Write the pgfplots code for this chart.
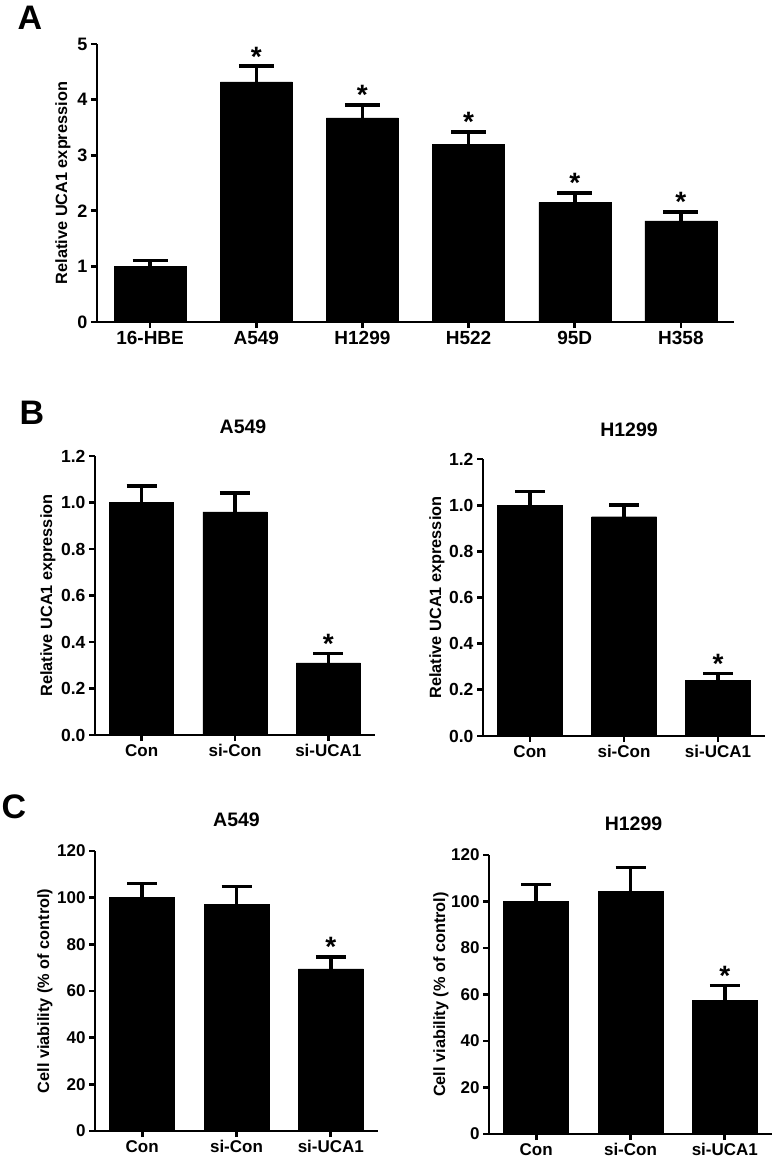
\documentclass[border=0pt]{standalone}
\usepackage{fontspec}
\setmainfont{Liberation Sans}
\usepackage{pgfplots}
\pgfplotsset{compat=1.18}

\newcommand{\fs}[1]{\bfseries\fontsize{#1}{#1}\selectfont}

\pgfplotsset{
  gpbar/.style={
    scale only axis,
    axis x line=bottom, axis y line=left,
    axis line style={-, line width=2.8pt, black},
    tick align=outside,
    major tick length=6pt,
    tick style={line width=2.8pt, black},
    ymin=0,
    clip=false,
    /pgf/number format/assume math mode=true,
    ylabel style={anchor=center, font=\fs{16.3}},
    title style={anchor=south, inner sep=0pt, font=\fs{19.5}},
  },
  bars/.style n args={2}{ybar, fill=black, draw=black, bar width=#1,
    /pgfplots/error bars/.cd, y dir=plus, y explicit,
    error bar style={line width=3.5pt, black},
    error mark=|,
    error mark options={line width=3.5pt, black, mark size=#2}},
  stars/.style={draw=none, mark=none, nodes near coords={*},
    nodes near coords style={anchor=south, inner sep=0pt, font=\fs{28}}},
}

\begin{document}
\begin{tikzpicture}
\useasboundingbox (0,0) rectangle (774pt,-1159pt);

% panel letters
\node[font=\fs{34}] at (30pt,-18pt) {A};
\node[font=\fs{34}] at (32pt,-413pt) {B};
\node[font=\fs{34}] at (14pt,-807pt) {C};

% A: UCA1 in cell lines
\begin{axis}[gpbar,
    at={(97pt,-322pt)}, anchor=south west,
    width=637pt, height=278pt,
    xmin=-0.5, xmax=5.5, ymax=5,
    xtick={0,...,5},
    xticklabels={16-HBE,A549,H1299,H522,95D,H358},
    ytick={0,...,5},
    xticklabel style={font=\fs{19}},
    yticklabel style={font=\fs{18}},
    ylabel={Relative UCA1 expression},
    ylabel style={at={([xshift=-34pt]axis description cs:0,0.5)}},
  ]
\addplot[bars={72pt}{17.5pt}]
  coordinates {
    (0,1.00) +- (0,0.11)
    (1,4.32) +- (0,0.28)
    (2,3.67) +- (0,0.23)
    (3,3.20) +- (0,0.22)
    (4,2.15) +- (0,0.17)
    (5,1.82) +- (0,0.16)
  };
\addplot[stars] coordinates {(1,4.60) (2,3.90) (3,3.42) (4,2.32) (5,1.98)};
\end{axis}

% B left: A549 knockdown
\begin{axis}[gpbar,
    at={(95pt,-735pt)}, anchor=south west,
    width=280pt, height=279pt,
    xmin=-0.5, xmax=2.5, ymax=1.2,
    xtick={0,1,2}, xticklabels={Con,si-Con,si-UCA1},
    ytick={0,0.2,...,1.2},
    y tick label style={/pgf/number format/fixed, /pgf/number format/fixed zerofill, /pgf/number format/precision=1},
    xticklabel style={font=\fs{17}},
    yticklabel style={font=\fs{17.5}},
    title={A549},
    title style={at={([xshift=8pt,yshift=16pt]axis description cs:0.5,1)}},
    ylabel={Relative UCA1 expression},
    ylabel style={at={([xshift=-47pt]axis description cs:0,0.5)}},
  ]
\addplot[bars={64pt}{15pt}] coordinates {
    (0,1.00) +- (0,0.07)
    (1,0.96) +- (0,0.08)
    (2,0.31) +- (0,0.04)
  };
\addplot[stars] coordinates {(2,0.35)};
\end{axis}

% B right: H1299 knockdown
\begin{axis}[gpbar,
    at={(483pt,-736pt)}, anchor=south west,
    width=282pt, height=277pt,
    xmin=-0.5, xmax=2.5, ymax=1.2,
    xtick={0,1,2}, xticklabels={Con,si-Con,si-UCA1},
    ytick={0,0.2,...,1.2},
    y tick label style={/pgf/number format/fixed, /pgf/number format/fixed zerofill, /pgf/number format/precision=1},
    xticklabel style={font=\fs{17}},
    yticklabel style={font=\fs{17.5}},
    title={H1299},
    title style={at={([xshift=5pt,yshift=16pt]axis description cs:0.5,1)}},
    ylabel={Relative UCA1 expression},
    ylabel style={at={([xshift=-46pt]axis description cs:0,0.5)}},
  ]
\addplot[bars={65pt}{15pt}] coordinates {
    (0,1.00) +- (0,0.06)
    (1,0.95) +- (0,0.05)
    (2,0.24) +- (0,0.03)
  };
\addplot[stars] coordinates {(2,0.27)};
\end{axis}

% C left: A549 viability
\begin{axis}[gpbar,
    at={(95pt,-1131pt)}, anchor=south west,
    width=283pt, height=280pt,
    xmin=-0.5, xmax=2.5, ymax=120,
    xtick={0,1,2}, xticklabels={Con,si-Con,si-UCA1},
    ytick={0,20,...,120},
    xticklabel style={font=\fs{17}},
    yticklabel style={font=\fs{17}},
    title={A549},
    title style={at={([xshift=0pt,yshift=18pt]axis description cs:0.5,1)}},
    ylabel={Cell viability (\% of control)},
    ylabel style={at={([xshift=-50pt]axis description cs:0,0.5)}},
  ]
\addplot[bars={65pt}{15pt}] coordinates {
    (0,100.0) +- (0,6.0)
    (1,97.2) +- (0,7.5)
    (2,69.5) +- (0,5.0)
  };
\addplot[stars] coordinates {(2,74.5)};
\end{axis}

% C right: H1299 viability
\begin{axis}[gpbar,
    at={(489pt,-1134pt)}, anchor=south west,
    width=283pt, height=279pt,
    xmin=-0.5, xmax=2.5, ymax=120,
    xtick={0,1,2}, xticklabels={Con,si-Con,si-UCA1},
    ytick={0,20,...,120},
    xticklabel style={font=\fs{17}},
    yticklabel style={font=\fs{17}},
    title={H1299},
    title style={at={([xshift=3pt,yshift=18pt]axis description cs:0.5,1)}},
    ylabel={Cell viability (\% of control)},
    ylabel style={at={([xshift=-48pt]axis description cs:0,0.5)}},
  ]
\addplot[bars={65pt}{15pt}] coordinates {
    (0,100.0) +- (0,7.3)
    (1,104.4) +- (0,10.3)
    (2,57.6) +- (0,6.2)
  };
\addplot[stars] coordinates {(2,63.8)};
\end{axis}
\end{tikzpicture}
\end{document}
